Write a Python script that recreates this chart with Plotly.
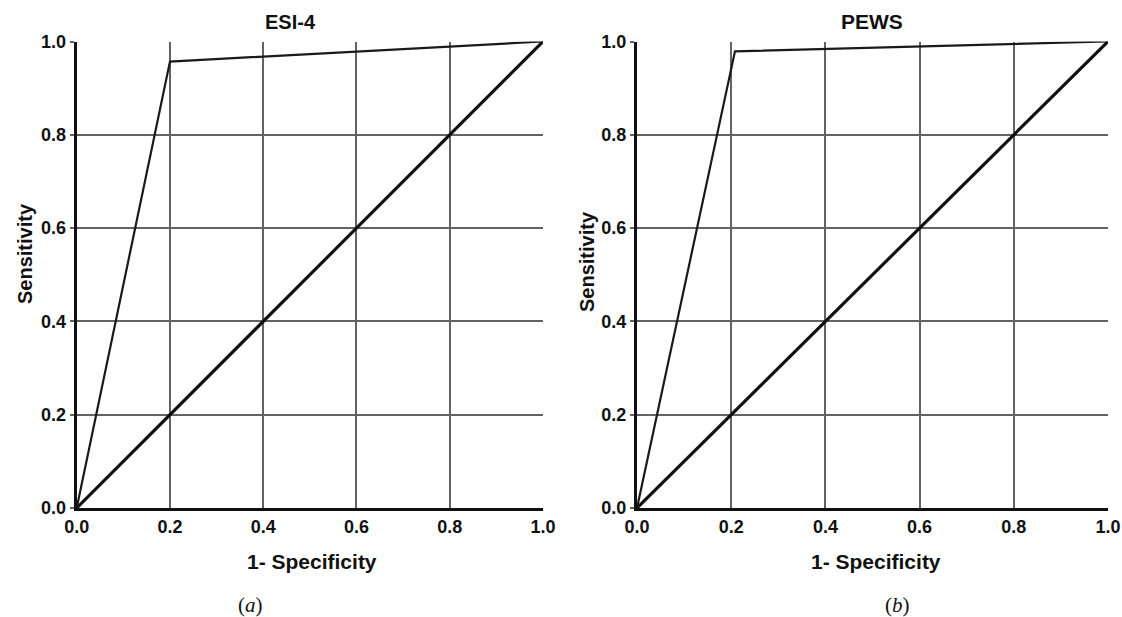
import plotly.graph_objects as go

# ROC curve points (1 - specificity, sensitivity)
esi_fpr = [0.0, 0.2, 1.0]
esi_tpr = [0.0, 0.957, 1.0]
pews_fpr = [0.0, 0.208, 1.0]
pews_tpr = [0.0, 0.979, 1.0]
# chance reference line
ref_x = [0.0, 1.0]
ref_y = [0.0, 1.0]

tick_vals = [0.0, 0.2, 0.4, 0.6, 0.8, 1.0]
tick_text = ["0.0", "0.2", "0.4", "0.6", "0.8", "1.0"]
panel_titles = ["ESI-4", "PEWS"]
panel_tags = ["(<i>a</i>)", "(<i>b</i>)"]
x_title = "1- Specificity"
y_title = "Sensitivity"

W, H = 1122, 617
FONT = "Liberation Sans, Arial, sans-serif"
INK = "#111111"

fig = go.Figure()

curves = [(esi_fpr, esi_tpr), (pews_fpr, pews_tpr)]
for i, (fx, fy) in enumerate(curves):
    xa = "x" if i == 0 else "x2"
    ya = "y" if i == 0 else "y2"
    fig.add_trace(go.Scatter(x=ref_x, y=ref_y, mode="lines", xaxis=xa, yaxis=ya,
                             line=dict(color=INK, width=3.2), showlegend=False))
    fig.add_trace(go.Scatter(x=fx, y=fy, mode="lines", xaxis=xa, yaxis=ya,
                             line=dict(color="#1a1a1a", width=2.2), showlegend=False))

# plot areas in pixels
panels = [(76.7, 543.0), (637.0, 1108.0)]
y_top, y_bot = 41.5, 508.0
ydom = [(H - y_bot) / H, (H - y_top) / H]

axis_common = dict(
    range=[0, 1], tickvals=tick_vals, ticktext=tick_text,
    showgrid=True, gridcolor="#636363", gridwidth=2,
    showline=True, linecolor=INK, linewidth=3,
    tickfont=dict(family=FONT, size=18, color=INK, weight="bold"),
    zeroline=False, fixedrange=True, automargin=False,
)

# per-panel label placement (pixels)
title_x = [290, 872]
title_size = [20, 21]
xtitle_x = [312, 876]
ytitle_x = [25, 587]
ytitle_y = [254, 262]
tag_x = [250, 897]


def label(text, px, py, font, angle=0):
    fig.add_annotation(text=text, xref="paper", yref="paper",
                       x=px / W, y=(H - py) / H, xanchor="center", yanchor="middle",
                       textangle=angle, showarrow=False, font=font)


for i, (x0, x1) in enumerate(panels):
    sfx = "" if i == 0 else "2"
    fig.layout["xaxis" + sfx] = dict(axis_common, domain=[x0 / W, x1 / W], anchor="y" + sfx,
                                     ticks="")
    fig.layout["yaxis" + sfx] = dict(axis_common, domain=ydom, anchor="x" + sfx,
                                     ticks="outside", ticklen=4, tickcolor="#636363",
                                     tickwidth=1.5)

    label(panel_titles[i], title_x[i], 22,
          dict(family=FONT, size=title_size[i], color=INK, weight="bold"))
    label(x_title, xtitle_x[i], 561,
          dict(family=FONT, size=21, color=INK, weight="bold"))
    label(y_title, ytitle_x[i], ytitle_y[i],
          dict(family=FONT, size=20, color=INK, weight="bold"), angle=-90)
    label(panel_tags[i], tag_x[i], 605,
          dict(family="Liberation Serif, Times New Roman, serif", size=21, color=INK))

fig.update_layout(
    width=W, height=H,
    margin=dict(l=0, r=0, t=0, b=0),
    paper_bgcolor="white", plot_bgcolor="white",
)

fig.write_html("out.html")
